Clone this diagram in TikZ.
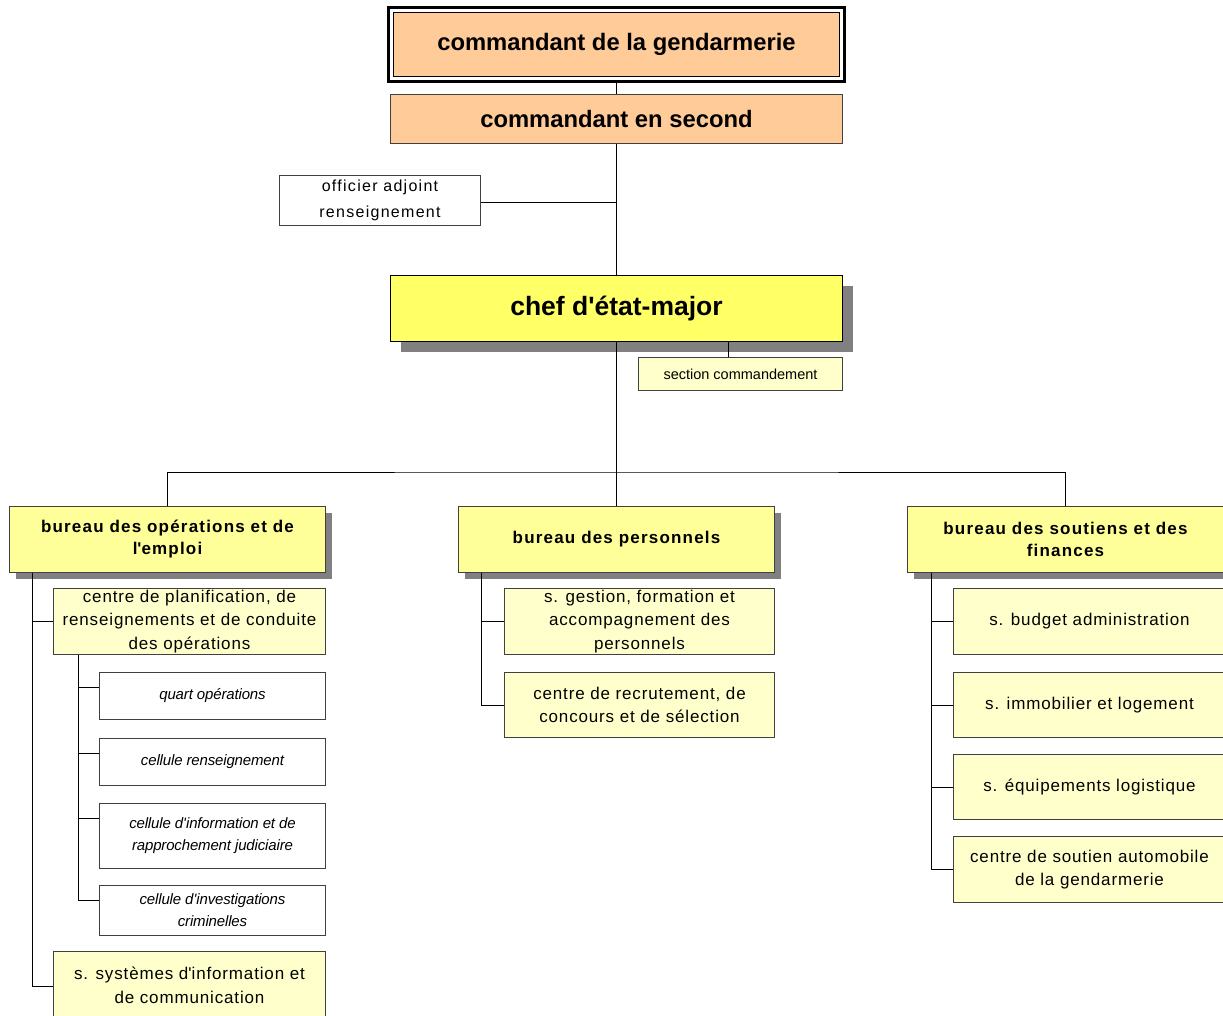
\documentclass[tikz,border=0pt]{standalone}
\usepackage{fontspec}
\setmainfont{Liberation Sans}
\usetikzlibrary{shadows,calc}
\definecolor{orng}{HTML}{FFCC99}
\definecolor{chefy}{HTML}{FFFF66}
\definecolor{bury}{HTML}{FFFF99}
\definecolor{lighty}{HTML}{FFFFCC}
\definecolor{shad}{HTML}{808080}
\definecolor{edge}{HTML}{404040}
\newcommand{\q}{\textquotesingle}
\begin{document}
\begin{tikzpicture}[x=1pt,y=-1pt,
  box/.style={draw=edge, line width=1pt, rectangle, inner sep=0pt, align=center, anchor=north west},
  orbox/.style={box, fill=orng, font=\fontsize{23.8}{28}\selectfont\bfseries},
  chefbox/.style={box, draw=black, fill=chefy, font=\fontsize{26.5}{30}\selectfont\bfseries,
     drop shadow={shadow xshift=10pt, shadow yshift=-10pt, fill=shad, opacity=1}},
  burbox/.style={box, fill=bury, font=\fontsize{17}{22}\selectfont\bfseries\addfontfeature{LetterSpace=7},
     drop shadow={shadow xshift=6pt, shadow yshift=-6pt, fill=shad, opacity=1}},
  subbox/.style={box, fill=lighty, font=\fontsize{17}{23.5}\selectfont\addfontfeature{LetterSpace=5}},
  cellbox/.style={box, fill=white, font=\fontsize{15}{22}\selectfont\itshape\addfontfeature{LetterSpace=-1}},
  conn/.style={line width=1pt, draw=black}
]
\clip (0,0) rectangle (1223,1015);
\fill[white] (0,0) rectangle (1223,1015);

% top
\node[orbox, minimum width=446pt, minimum height=64pt, draw=black] (cmd) at (393,12) {commandant de la gendarmerie};
\draw[line width=3.5pt] ([xshift=-4.5pt,yshift=4.5pt]cmd.north west) rectangle ([xshift=4.5pt,yshift=-4.5pt]cmd.south east);
\node[orbox, minimum width=452pt, minimum height=49pt] (sec) at (390,94) {commandant en second};

\node[box, fill=white, minimum width=201pt, minimum height=50pt, font=\fontsize{16}{26}\selectfont\addfontfeature{LetterSpace=8}] (off) at (279,175) {officier adjoint\\renseignement};

\node[chefbox, minimum width=452pt, minimum height=66pt] (chef) at (390,275) {chef d\q état-major};

\node[box, fill=lighty, minimum width=204pt, minimum height=33pt, font=\fontsize{14.5}{16}\selectfont] (scmd) at (638,357) {section commandement};

% bureaus
\node[burbox, minimum width=316pt, minimum height=66pt] (b1) at (9,506) {bureau des opérations et de\\l\q emploi};
\node[burbox, minimum width=316pt, minimum height=66pt] (b2) at (458,506) {bureau des personnels};
\node[burbox, minimum width=316pt, minimum height=66pt] (b3) at (907,506) {bureau des soutiens et des\\finances};

% left column
\node[subbox, minimum width=272pt, minimum height=66pt] (cp) at (53,588) {centre de planification, de\\renseignements et de conduite\\des opérations};
\node[cellbox, minimum width=226pt, minimum height=47pt] (c1) at (99,672) {quart opérations};
\node[cellbox, minimum width=226pt, minimum height=47pt] (c2) at (99,738) {cellule renseignement};
\node[cellbox, minimum width=226pt, minimum height=65pt] (c3) at (99,803) {cellule d\q information et de\\rapprochement judiciaire};
\node[cellbox, minimum width=226pt, minimum height=50pt] (c4) at (99,885) {cellule d\q investigations\\criminelles};
\node[subbox, minimum width=272pt, minimum height=68pt] (sys) at (53,951) {s. systèmes d\q information et\\de communication};

% middle column
\node[subbox, minimum width=270pt, minimum height=66pt] (m1) at (504,588) {s. gestion, formation et\\accompagnement des\\personnels};
\node[subbox, minimum width=270pt, minimum height=65pt] (m2) at (504,672) {centre de recrutement, de\\concours et de sélection};

% right column
\node[subbox, minimum width=272pt, minimum height=66pt] (r1) at (953,588) {s. budget administration};
\node[subbox, minimum width=272pt, minimum height=65pt] (r2) at (953,672) {s. immobilier et logement};
\node[subbox, minimum width=272pt, minimum height=65pt] (r3) at (953,754) {s. équipements logistique};
\node[subbox, minimum width=272pt, minimum height=66pt] (r4) at (953,836) {centre de soutien automobile\\de la gendarmerie};

% connectors
\draw[conn] (cmd.south) ++(0,-4.5pt) -- (sec.north);
\draw[conn] (sec.south) -- (chef.north);
\draw[conn] ([yshift=-2pt]off.east) -- ([yshift=-2pt]off.east -| sec.south);
\draw[conn] ([xshift=-12pt]scmd.north) -- ([xshift=-12pt]scmd.north |- chef.south);
\coordinate (bus) at (chef.south |- 0,472);
\draw[conn] (chef.south) -- (b2.north);
\draw[conn] (b1.north) |- (bus) -| (b3.north);

\coordinate (s1) at ([xshift=23pt]b1.south west);
\draw[conn] (s1) |- (cp.west);
\draw[conn] (s1) |- ([yshift=-1pt]sys.west);
\coordinate (s1b) at ([xshift=25pt]cp.south west);
\draw[conn] (s1b) |- ([yshift=-15.5pt]c1.north west);
\draw[conn] (s1b) |- ([yshift=-15.5pt]c2.north west);
\draw[conn] (s1b) |- ([yshift=-15.5pt]c3.north west);
\draw[conn] (s1b) |- ([yshift=-15.5pt]c4.north west);

\coordinate (s2) at ([xshift=23pt]b2.south west);
\draw[conn] (s2) |- (m1.west);
\draw[conn] (s2) |- (m2.west);

\coordinate (s3) at ([xshift=24pt]b3.south west);
\draw[conn] (s3) |- (r1.west);
\draw[conn] (s3) |- (r2.west);
\draw[conn] (s3) |- (r3.west);
\draw[conn] (s3) |- (r4.west);
\end{tikzpicture}
\end{document}
